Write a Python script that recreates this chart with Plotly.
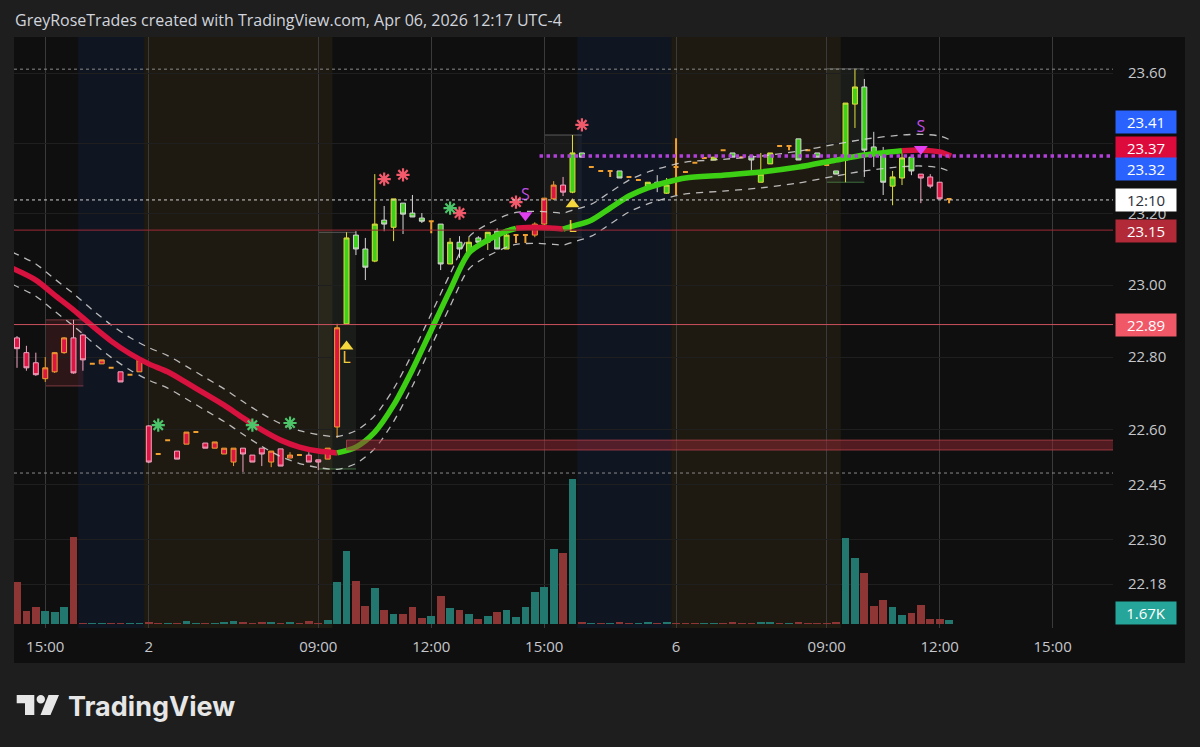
import math
import plotly.graph_objects as go

# ---------------- data (15-minute bars, index based like TradingView) ----------------
bar_index = list(range(100))
opens = [22.853, 22.812, 22.784, 22.740, 22.759, 22.812, 22.853, 22.861, 22.781, 22.781,
         22.770, 22.759, 22.751, 22.759, 22.610, 22.533, 22.571, 22.541, 22.560, 22.593,
         22.563, 22.549, 22.533, 22.511, 22.549, 22.530, 22.549, 22.511, 22.547, 22.522,
         22.530, 22.530, 22.517, 22.519, 22.607, 22.892, 23.140, 23.101, 23.067, 23.182,
         23.162, 23.230, 23.202, 23.188, 23.179, 23.171, 23.059, 23.120, 23.090, 23.132,
         23.120, 23.151, 23.101, 23.140, 23.140, 23.140, 23.171, 23.242, 23.281, 23.261,
         23.372, 23.332, 23.321, 23.321, 23.321, 23.304, 23.295, 23.278, 23.289, 23.258,
         23.332, 23.318, 23.344, 23.358, 23.352, 23.380, 23.372, 23.360, 23.363, 23.289,
         23.341, 23.392, 23.392, 23.412, 23.380, 23.372, 23.338, 23.321, 23.352, 23.511,
         23.560, 23.389, 23.369, 23.278, 23.301, 23.360, 23.312, 23.304, 23.289, 23.242]
highs = [22.858, 22.831, 22.812, 22.800, 22.814, 22.855, 22.903, 22.864, 22.781, 22.792,
         22.770, 22.759, 22.751, 22.792, 22.612, 22.533, 22.571, 22.541, 22.593, 22.593,
         22.563, 22.566, 22.549, 22.549, 22.549, 22.530, 22.549, 22.541, 22.547, 22.538,
         22.530, 22.538, 22.517, 22.549, 22.892, 23.148, 23.151, 23.132, 23.312, 23.222,
         23.242, 23.230, 23.253, 23.202, 23.179, 23.171, 23.132, 23.137, 23.134, 23.137,
         23.148, 23.159, 23.148, 23.140, 23.140, 23.176, 23.244, 23.292, 23.304, 23.423,
         23.372, 23.332, 23.321, 23.321, 23.321, 23.304, 23.295, 23.289, 23.309, 23.301,
         23.414, 23.318, 23.344, 23.358, 23.360, 23.380, 23.372, 23.360, 23.363, 23.372,
         23.372, 23.392, 23.392, 23.412, 23.380, 23.372, 23.338, 23.321, 23.514, 23.612,
         23.583, 23.432, 23.389, 23.321, 23.375, 23.360, 23.312, 23.312, 23.289, 23.242]
lows = [22.770, 22.762, 22.748, 22.731, 22.756, 22.809, 22.754, 22.762, 22.781, 22.781,
        22.770, 22.731, 22.751, 22.759, 22.508, 22.533, 22.571, 22.519, 22.560, 22.593,
        22.549, 22.549, 22.533, 22.500, 22.484, 22.511, 22.500, 22.497, 22.500, 22.522,
        22.530, 22.511, 22.489, 22.519, 22.577, 22.892, 23.084, 23.014, 23.064, 23.151,
        23.123, 23.143, 23.191, 23.174, 23.145, 23.042, 23.059, 23.076, 23.090, 23.118,
        23.098, 23.101, 23.101, 23.118, 23.118, 23.134, 23.165, 23.239, 23.250, 23.258,
        23.360, 23.332, 23.321, 23.304, 23.301, 23.304, 23.295, 23.278, 23.261, 23.256,
        23.253, 23.318, 23.344, 23.358, 23.352, 23.380, 23.360, 23.360, 23.315, 23.289,
        23.341, 23.392, 23.380, 23.352, 23.380, 23.360, 23.338, 23.312, 23.289, 23.443,
        23.304, 23.332, 23.253, 23.224, 23.281, 23.309, 23.230, 23.272, 23.242, 23.230]
closes = [22.823, 22.770, 22.751, 22.770, 22.812, 22.853, 22.756, 22.792, 22.781, 22.792,
          22.770, 22.731, 22.751, 22.792, 22.511, 22.533, 22.571, 22.519, 22.593, 22.593,
          22.549, 22.566, 22.549, 22.549, 22.533, 22.511, 22.533, 22.541, 22.500, 22.530,
          22.530, 22.511, 22.511, 22.549, 22.881, 23.132, 23.101, 23.050, 23.171, 23.171,
          23.242, 23.199, 23.191, 23.179, 23.179, 23.059, 23.120, 23.101, 23.120, 23.120,
          23.148, 23.101, 23.140, 23.140, 23.140, 23.171, 23.244, 23.281, 23.261, 23.372,
          23.360, 23.332, 23.321, 23.321, 23.301, 23.304, 23.295, 23.289, 23.278, 23.281,
          23.332, 23.318, 23.344, 23.358, 23.360, 23.380, 23.360, 23.360, 23.352, 23.312,
          23.372, 23.392, 23.392, 23.352, 23.380, 23.360, 23.338, 23.312, 23.514, 23.560,
          23.380, 23.372, 23.289, 23.304, 23.358, 23.321, 23.301, 23.278, 23.242, 23.242]
# trend colouring of each bar: R = red regime, G = green regime
trend = "R" * 35 + "G" * 18 + "R" * 6 + "G" * 37 + "R" * 4
# volume in thousands, and whether the volume bar is up (u) or down (d)
volume_k = [17.4, 5.5, 7.2, 5.5, 5.1, 7.2, 36.4, 0.4, 0.3, 0.4,
            0.3, 0.4, 0.3, 0.4, 1.0, 0.3, 0.3, 0.4, 1.1, 0.3,
            0.4, 0.4, 0.5, 1.1, 0.5, 0.4, 0.8, 0.7, 0.4, 0.5,
            0.3, 1.1, 0.4, 1.7, 17.5, 30.4, 18.0, 7.5, 14.9, 5.8,
            4.0, 4.0, 7.0, 2.4, 3.3, 11.8, 6.5, 5.8, 4.0, 2.0,
            3.3, 5.1, 5.8, 3.0, 7.2, 13.2, 15.3, 31.1, 29.5, 60.4,
            0.8, 0.3, 0.4, 0.4, 0.5, 0.3, 0.3, 0.5, 0.4, 0.9,
            0.4, 0.3, 0.3, 0.3, 0.3, 0.3, 0.8, 0.3, 0.3, 0.8,
            0.5, 0.3, 0.3, 0.5, 0.3, 0.3, 0.3, 0.5, 35.7, 27.6,
            21.4, 7.5, 10.0, 7.2, 3.75, 4.4, 7.9, 2.1, 2.1, 1.67]
volume_dir = ("ddduuudduu" "dduudduduu" "duuudddudu" "ddduuuddud" "udddududud"
              "uduuuuuudu" "dududduudu" "ddduuddddu" "ududdddduu" "ddduuddddu")

# smoothed trend line (read at selected bars), split by colour
line_red1_x = [-0.5, 2, 4, 6, 8, 10, 12, 14, 16, 18, 20, 22, 24, 26, 28, 30, 32, 34]
line_red1_y = [23.047, 23.014, 22.972, 22.931, 22.886, 22.844, 22.809, 22.781, 22.759, 22.729,
               22.698, 22.667, 22.632, 22.599, 22.571, 22.552, 22.541, 22.536]
line_green1_x = [34, 36, 38, 40, 42, 44, 46, 48, 50, 52, 53]
line_green1_y = [22.536, 22.552, 22.593, 22.667, 22.765, 22.875, 22.986, 23.090, 23.126, 23.151, 23.159]
line_red2_x = [53, 55, 57, 58]
line_red2_y = [23.159, 23.162, 23.159, 23.157]
line_green2_x = [58, 59, 61, 63, 65, 67, 69, 71, 75, 79, 83, 87, 90, 94]
line_green2_y = [23.157, 23.165, 23.182, 23.216, 23.250, 23.273, 23.289, 23.301, 23.309, 23.318,
                 23.332, 23.352, 23.366, 23.378]
line_red3_x = [94, 96, 98, 99.2]
line_red3_y = [23.378, 23.380, 23.375, 23.363]

# dashed envelope
band_x = [-0.5, 2, 4, 6, 8, 10, 12, 14, 16, 18, 20, 22, 24, 26, 28, 30, 32, 34, 36, 38, 40, 42, 44,
          46, 48, 50, 52, 53, 55, 57, 58, 59, 61, 63, 65, 67, 69, 71, 75, 79, 83, 87, 90, 94, 96, 98, 99.2]
band_upper = [23.092, 23.059, 23.017, 22.976, 22.931, 22.889, 22.854, 22.826, 22.804, 22.774, 22.743,
              22.712, 22.677, 22.644, 22.616, 22.597, 22.586, 22.581, 22.597, 22.638, 22.712, 22.810,
              22.920, 23.031, 23.135, 23.171, 23.196, 23.204, 23.207, 23.204, 23.202, 23.210, 23.227,
              23.261, 23.295, 23.318, 23.334, 23.346, 23.354, 23.363, 23.377, 23.397, 23.411, 23.423,
              23.425, 23.420, 23.408]
band_lower = [23.002, 22.969, 22.927, 22.886, 22.841, 22.799, 22.764, 22.736, 22.714, 22.684, 22.653,
              22.622, 22.587, 22.554, 22.526, 22.507, 22.496, 22.491, 22.507, 22.548, 22.622, 22.720,
              22.830, 22.941, 23.045, 23.081, 23.106, 23.114, 23.117, 23.114, 23.112, 23.120, 23.137,
              23.171, 23.205, 23.228, 23.244, 23.256, 23.264, 23.273, 23.287, 23.307, 23.321, 23.333,
              23.335, 23.330, 23.318]

# signal markers
red_star_x = [39, 41, 47, 53, 60]
red_star_y = [23.298, 23.310, 23.202, 23.233, 23.452]
green_star_x = [15, 25, 29, 46]
green_star_y = [22.612, 22.612, 22.618, 23.216]
long_x = [35, 59]
long_tri_y = [22.829, 23.227]
long_txt_y = [22.795, 23.159]
short_x = [54, 96]
short_tri_y = [23.196, 23.383]
short_txt_y = [23.250, 23.442]

# sessions (bar index boundaries)
session_start = [6.5, 13.5, 59.5, 69.5]
session_end = [13.5, 33.5, 69.5, 87.5]
session_kind = ["post", "pre", "post", "pre"]

# range boxes
box_x0 = [3.05, 32, 56, 86]
box_x1 = [7.05, 36, 60, 90]
box_low = [22.720, 22.492, 23.134, 23.289]
box_high = [22.903, 23.148, 23.423, 23.612]
box_kind = ["red", "green", "grey", "green"]

# horizontal levels
level_dark_red = 23.154
level_light_red = 22.89
level_purple = 23.363
purple_start = 55.5
current_price = 23.239
range_high = 23.611
range_low = 22.481
zone_start = 35
zone_low = 22.544
zone_high = 22.571

# axis ticks
price_ticks = [23.60, 23.40, 23.20, 23.00, 22.80, 22.60, 22.45, 22.30, 22.18]
price_tick_txt = ["23.60", "", "23.20", "23.00", "22.80", "22.60", "22.45", "22.30", "22.18"]
time_tick_idx = [3, 14, 32, 44, 56, 70, 86, 98, 110]
time_tick_txt = ["15:00", "2", "09:00", "12:00", "15:00", "6", "09:00", "12:00", "15:00"]

# price-scale labels: (text, value, axis, bg, fg, yshift)
scale_labels = [
    ("23.41", 23.41, "y", "#2962ff", "#ffffff", 18),
    ("23.37", 23.37, "y", "#dd0a3c", "#ffffff", 6),
    ("23.32", 23.32, "y", "#2962ff", "#ffffff", 2),
    ("12:10", 23.239, "y", "#ffffff", "#2a2e39", 0),
    ("23.15", 23.15, "y", "#b22a38", "#ffffff", 1),
    ("22.89", 22.89, "y", "#f05868", "#ffffff", 0),
    ("1.67K", 1.67, "y2", "#26a69a", "#ffffff", 7),
]

# ---------------- styling ----------------
BG = "#0f0f0f"
PAPER = "#1e1e1e"
RED = "#dc1543"
GREEN = "#3dd11c"
ORANGE = "#f0a030"
PINK = "#f2a7c3"
YELLOW = "#e3df3c"
WHITE_EDGE = "#d6d6d6"
TEAL = "#22786f"
VRED = "#8e3636"
FONT = "Open Sans"

W, H = 1200, 747
PL, PR, PT, PB = 14, 1113, 37, 628  # plot area in pixels


def px_x(px):
    return (px - PL) / (PR - PL)


def px_y(py):
    return (PB - py) / (PB - PT)


fig = go.Figure()

# volume
fig.add_trace(go.Bar(
    x=bar_index, y=volume_k, yaxis="y2", width=0.82,
    marker=dict(color=[TEAL if d == "u" else VRED for d in volume_dir], line=dict(width=0)),
    hoverinfo="skip"))

# candles grouped by style
groups = [("R", 1, RED, ORANGE), ("R", -1, RED, PINK), ("G", 1, GREEN, YELLOW), ("G", -1, GREEN, WHITE_EDGE)]
for tr, sgn, fill, edge in groups:
    sel = [i for i in bar_index if trend[i] == tr and (closes[i] - opens[i]) * sgn > 0]
    style = dict(fillcolor=fill, line=dict(color=edge, width=1))
    fig.add_trace(go.Candlestick(
        x=sel, open=[opens[i] for i in sel], high=[highs[i] for i in sel],
        low=[lows[i] for i in sel], close=[closes[i] for i in sel],
        increasing=style, decreasing=style, whiskerwidth=0, hoverinfo="skip"))
sel = [i for i in bar_index if closes[i] == opens[i]]
style = dict(fillcolor=ORANGE, line=dict(color=ORANGE, width=2))
fig.add_trace(go.Candlestick(
    x=sel, open=[opens[i] for i in sel], high=[highs[i] for i in sel],
    low=[lows[i] for i in sel], close=[closes[i] for i in sel],
    increasing=style, decreasing=style, whiskerwidth=0, hoverinfo="skip"))

# envelope
for yy in (band_upper, band_lower):
    fig.add_trace(go.Scatter(x=band_x, y=yy, mode="lines", hoverinfo="skip",
                             line=dict(color="rgba(215,215,215,0.85)", width=1.3, dash="7px,6px",
                                       shape="spline", smoothing=0.8)))

# trend line
for xs, ys, col in [(line_red1_x, line_red1_y, "#d7123f"), (line_green1_x, line_green1_y, "#3ccf14"),
                    (line_red2_x, line_red2_y, "#d7123f"), (line_green2_x, line_green2_y, "#3ccf14"),
                    (line_red3_x, line_red3_y, "#d7123f")]:
    fig.add_trace(go.Scatter(x=xs, y=ys, mode="lines", hoverinfo="skip",
                             line=dict(color=col, width=5.5, shape="spline", smoothing=0.8)))

# signals
fig.add_trace(go.Scatter(x=red_star_x, y=red_star_y, mode="markers", hoverinfo="skip",
                         marker=dict(symbol="asterisk-open", size=11, color="#f2596b",
                                     line=dict(color="#f2596b", width=2.2))))
fig.add_trace(go.Scatter(x=green_star_x, y=green_star_y, mode="markers", hoverinfo="skip",
                         marker=dict(symbol="asterisk-open", size=11, color="#4cc46a",
                                     line=dict(color="#4cc46a", width=2.2))))
fig.add_trace(go.Scatter(x=long_x, y=long_tri_y, mode="markers", hoverinfo="skip",
                         marker=dict(symbol="triangle-up", size=12, color="#f5d63d")))
fig.add_trace(go.Scatter(x=long_x, y=long_txt_y, mode="text", text=["L"] * len(long_x), hoverinfo="skip",
                         textfont=dict(family=FONT, size=16, color="#f0d040")))
fig.add_trace(go.Scatter(x=short_x, y=short_tri_y, mode="markers", hoverinfo="skip",
                         marker=dict(symbol="triangle-down", size=12, color="#e040f0")))
fig.add_trace(go.Scatter(x=short_x, y=short_txt_y, mode="text", text=["S"] * len(short_x), hoverinfo="skip",
                         textfont=dict(family=FONT, size=16, color="#c04ee0")))

# ---------------- shapes ----------------
shapes = [dict(type="rect", xref="paper", yref="paper", x0=0, x1=px_x(1185), y0=px_y(663), y1=1,
               fillcolor=BG, line_width=0, layer="below")]
for s, e, k in zip(session_start, session_end, session_kind):
    shapes.append(dict(type="rect", xref="x", yref="paper", x0=s, x1=e, y0=0, y1=1,
                       fillcolor="#0f1521" if k == "post" else "#1f1a11", line_width=0, layer="below"))
for x0, x1, lo, hi, k in zip(box_x0, box_x1, box_low, box_high, box_kind):
    if k == "red":
        fill, edge, bottom = "rgba(150,50,60,0.22)", "rgba(200,90,100,0.55)", "rgba(200,90,100,0.55)"
    elif k == "green":
        fill, edge, bottom = "rgba(190,215,190,0.07)", "rgba(150,150,150,0.55)", "rgba(90,170,90,0.6)"
    else:
        fill, edge, bottom = "rgba(220,220,220,0.05)", "rgba(150,150,150,0.55)", "rgba(150,150,150,0.3)"
    shapes.append(dict(type="rect", xref="x", yref="y", x0=x0, x1=x1, y0=lo, y1=hi,
                       fillcolor=fill, line_width=0, layer="below"))
    shapes.append(dict(type="line", xref="x", yref="y", x0=x0, x1=x1, y0=hi, y1=hi,
                       line=dict(color=edge, width=1), layer="below"))
    shapes.append(dict(type="line", xref="x", yref="y", x0=x0, x1=x1, y0=lo, y1=lo,
                       line=dict(color=bottom, width=1), layer="below"))
# zone
shapes.append(dict(type="rect", xref="x", yref="y", x0=zone_start, x1=130, y0=zone_low, y1=zone_high,
                   fillcolor="rgba(150,40,52,0.5)", line=dict(color="rgba(190,70,80,0.75)", width=1)))
# levels
shapes += [
    dict(type="line", xref="paper", yref="y", x0=0, x1=1, y0=level_dark_red, y1=level_dark_red,
         line=dict(color="#9e2a36", width=1)),
    dict(type="line", xref="paper", yref="y", x0=0, x1=1, y0=level_light_red, y1=level_light_red,
         line=dict(color="#c9505e", width=1)),
    dict(type="line", xref="paper", yref="y", x0=0, x1=1, y0=range_high, y1=range_high,
         line=dict(color="#8a8a8a", width=1, dash="dot")),
    dict(type="line", xref="paper", yref="y", x0=0, x1=1, y0=range_low, y1=range_low,
         line=dict(color="#8a8a8a", width=1, dash="dot")),
    dict(type="line", xref="paper", yref="y", x0=0, x1=1, y0=current_price, y1=current_price,
         line=dict(color="#d0d0d0", width=1, dash="dot")),
    dict(type="line", xref="x", yref="y", x0=purple_start, x1=130, y0=level_purple, y1=level_purple,
         line=dict(color="#b040d8", width=3.5, dash="dot")),
]

# TradingView logo (decoration)
def pt(x, y):
    return f"{px_x(x):.5f},{px_y(y):.5f}"

shapes.append(dict(type="path", xref="paper", yref="paper", fillcolor="#e6e6e6", line_width=0,
                   path=f"M{pt(16.7,695)} L{pt(34.3,695)} L{pt(34.3,715)} L{pt(25,715)} L{pt(25,703.3)} L{pt(16.7,703.3)} Z"))
shapes.append(dict(type="circle", xref="paper", yref="paper", fillcolor="#e6e6e6", line_width=0,
                   x0=px_x(36.6), x1=px_x(45), y0=px_y(703.4), y1=px_y(695)))
shapes.append(dict(type="path", xref="paper", yref="paper", fillcolor="#e6e6e6", line_width=0,
                   path=f"M{pt(48.5,695)} L{pt(59,695)} L{pt(50.5,715)} L{pt(40.5,715)} Z"))

# ---------------- annotations ----------------
ann = [
    dict(xref="paper", yref="paper", x=px_x(13), y=px_y(20), xanchor="left", yanchor="middle",
         text="GreyRoseTrades created with TradingView.com, Apr 06, 2026 12:17 UTC-4", showarrow=False,
         font=dict(family=FONT, size=16, color="#d1d4dc")),
    dict(xref="paper", yref="paper", x=px_x(66), y=px_y(706), xanchor="left", yanchor="middle",
         text="<b>TradingView</b>", showarrow=False, font=dict(family="Inter", size=27, color="#e6e6e6")),
]
for txt, val, ax, bg, fg, ys in scale_labels:
    yv = math.log10(val) if ax == "y" else val
    ann.append(dict(xref="paper", yref=ax, x=1, y=yv, xanchor="left", yanchor="middle", xshift=2, yshift=ys,
                    text=txt, showarrow=False, bgcolor=bg, width=56, height=18, borderpad=2, align="center",
                    font=dict(family=FONT, size=15, color=fg)))

fig.update_layout(
    width=W, height=H, margin=dict(l=PL, r=W - PR, t=PT, b=H - PB),
    paper_bgcolor=PAPER, plot_bgcolor=BG, showlegend=False, hovermode=False,
    shapes=shapes, annotations=ann, bargap=0, boxgap=0.25,
    xaxis=dict(range=[(PL - 17) / 9.415, (PR - 17) / 9.415], tickmode="array", tickvals=time_tick_idx,
               ticktext=time_tick_txt, showgrid=True, gridcolor="#3a3a3a", gridwidth=1, zeroline=False,
               showline=False, ticks="", rangeslider=dict(visible=False), ticklabelstandoff=8,
               tickfont=dict(family=FONT, size=15, color="#c5c7cc")),
    yaxis=dict(type="log", range=[math.log10(22.0619), math.log10(23.7034)], side="right",
               tickmode="array", tickvals=price_ticks, ticktext=price_tick_txt,
               showgrid=True, gridcolor="#1f1f1f", zeroline=False, showline=False, ticks="",
               ticklabelstandoff=14, tickfont=dict(family=FONT, size=15, color="#c5c7cc")),
    yaxis2=dict(overlaying="y", range=[-1.67, 244.6], visible=False, showgrid=False),
)

fig.write_html("out.html", config={"displayModeBar": False},
               post_script="document.body.style.margin='0px';")
